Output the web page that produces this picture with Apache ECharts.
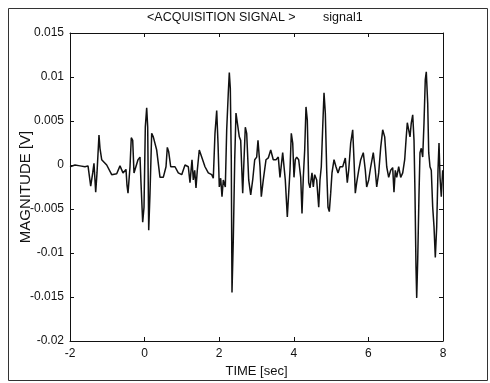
<!DOCTYPE html>
<html>
<head>
<meta charset="utf-8">
<script src="https://cdn.jsdelivr.net/npm/echarts@6/dist/echarts.min.js"></script>
<style>
  html, body { margin: 0; padding: 0; background: #fff; }
  #chart { width: 490px; height: 383px; }
</style>
</head>
<body>
<div id="chart"></div>
<script>
// time axis (sec)
const timeSec = [
  -2.000, -1.866, -1.732, -1.686, -1.598, -1.517, -1.445, -1.391, -1.357, -1.311,
  -1.276, -1.223, -1.196, -1.150, -1.115, -1.016, -0.882, -0.748, -0.660, -0.579,
  -0.499, -0.472, -0.445, -0.391, -0.357, -0.319, -0.284, -0.231, -0.177, -0.123,
  -0.097, -0.051, -0.016, 0.019, 0.056, 0.083, 0.110, 0.145, 0.190, 0.233,
  0.324, 0.413, 0.501, 0.574, 0.609, 0.646, 0.700, 0.815, 0.903, 0.995,
  1.083, 1.172, 1.217, 1.271, 1.306, 1.343, 1.378, 1.413, 1.466, 1.531,
  1.619, 1.708, 1.799, 1.842, 1.887, 1.933, 1.968, 2.003, 2.040, 2.075,
  2.110, 2.164, 2.201, 2.244, 2.271, 2.298, 2.324, 2.343, 2.378, 2.416,
  2.450, 2.485, 2.539, 2.576, 2.630, 2.665, 2.700, 2.737, 2.791, 2.845,
  2.898, 2.952, 3.005, 3.040, 3.094, 3.129, 3.182, 3.255, 3.316, 3.381,
  3.450, 3.523, 3.584, 3.630, 3.702, 3.737, 3.772, 3.826, 3.863, 3.898,
  3.933, 3.971, 4.005, 4.040, 4.078, 4.131, 4.185, 4.220, 4.255, 4.292,
  4.327, 4.362, 4.399, 4.434, 4.488, 4.523, 4.560, 4.614, 4.668, 4.702,
  4.737, 4.775, 4.810, 4.845, 4.882, 4.917, 4.952, 4.989, 5.024, 5.078,
  5.131, 5.185, 5.239, 5.311, 5.381, 5.434, 5.472, 5.525, 5.579, 5.614,
  5.649, 5.686, 5.740, 5.794, 5.863, 5.917, 5.954, 6.008, 6.062, 6.131,
  6.185, 6.223, 6.276, 6.330, 6.383, 6.437, 6.491, 6.544, 6.598, 6.651,
  6.686, 6.721, 6.759, 6.812, 6.866, 6.920, 6.973, 7.008, 7.043, 7.080,
  7.115, 7.150, 7.188, 7.223, 7.249, 7.276, 7.295, 7.322, 7.357, 7.383,
  7.418, 7.456, 7.491, 7.525, 7.552, 7.590, 7.617, 7.651, 7.686, 7.724,
  7.759, 7.794, 7.831, 7.866, 7.893, 7.920, 7.954, 7.992
];

// signal magnitude (V)
const magnitudeV = [
  -0.0002, 0.0000, -0.0001, 0.0001, -0.0002, -0.0001, -0.0024, -0.0009, 0.0002, -0.0031,
  -0.0009, 0.0034, 0.0019, 0.0006, 0.0007, 0.0000, -0.0011, -0.0010, -0.0001, -0.0009,
  -0.0005, -0.0023, -0.0032, -0.0002, 0.0031, 0.0028, -0.0009, -0.0009, 0.0006, 0.0009,
  -0.0020, -0.0065, -0.0048, 0.0043, 0.0065, 0.0043, -0.0074, -0.0032, 0.0036, 0.0032,
  0.0017, -0.0014, -0.0014, -0.0002, 0.0020, 0.0015, -0.0002, -0.0002, -0.0009, -0.0011,
  0.0000, -0.0002, -0.0020, 0.0006, -0.0017, -0.0006, -0.0026, -0.0006, 0.0017, 0.0009,
  -0.0002, -0.0009, -0.0011, -0.0015, 0.0036, 0.0062, 0.0025, -0.0025, -0.0015, -0.0036,
  -0.0017, -0.0025, 0.0040, 0.0082, 0.0105, 0.0087, 0.0006, -0.0145, -0.0085, 0.0006,
  0.0059, 0.0059, 0.0032, 0.0028, -0.0032, 0.0006, 0.0043, 0.0036, -0.0017, -0.0034,
  -0.0017, 0.0006, 0.0009, 0.0028, -0.0002, -0.0036, -0.0017, 0.0006, 0.0008, 0.0017,
  0.0006, 0.0006, 0.0009, -0.0014, 0.0014, 0.0014, -0.0017, -0.0059, -0.0032, -0.0006,
  0.0036, 0.0025, -0.0014, 0.0006, 0.0009, 0.0006, -0.0014, -0.0055, -0.0014, 0.0017,
  0.0066, 0.0051, -0.0020, -0.0026, -0.0009, -0.0025, -0.0011, -0.0017, -0.0048, -0.0017,
  -0.0002, 0.0043, 0.0082, 0.0059, -0.0006, -0.0048, -0.0053, -0.0032, -0.0009, 0.0006,
  -0.0002, -0.0009, -0.0002, -0.0002, 0.0008, -0.0020, -0.0006, 0.0025, 0.0040, 0.0006,
  -0.0032, -0.0020, -0.0006, 0.0006, 0.0014, -0.0006, -0.0025, -0.0017, -0.0002, 0.0014,
  -0.0006, -0.0025, -0.0009, 0.0020, 0.0040, 0.0032, -0.0002, -0.0014, -0.0006, -0.0003,
  -0.0031, -0.0006, -0.0014, -0.0002, -0.0014, -0.0009, 0.0006, 0.0028, 0.0048, 0.0040,
  0.0032, 0.0048, 0.0057, 0.0028, -0.0032, -0.0116, -0.0151, -0.0108, -0.0032, 0.0014,
  0.0019, 0.0009, 0.0048, 0.0097, 0.0106, 0.0070, 0.0014, -0.0002, -0.0006, -0.0048,
  -0.0070, -0.0105, -0.0070, -0.0006, 0.0025, -0.0014, -0.0036, -0.0006
];

const titleText = "<ACQUISITION SIGNAL >";
const signalName = "signal1";
const xName = "TIME [sec]";
const yName = "MAGNITUDE [V]";

const font = "'Liberation Sans', Arial, sans-serif";
const ink = "#111";

const chart = echarts.init(document.getElementById("chart"));

const signalData = timeSec.map((t, i) => [t, magnitudeV[i]]);

// MATLAB-like box: ticks inward on every side
const boxAxis = {
	type: "value",
	axisLine: { show: true, onZero: false, lineStyle: { color: ink, width: 1 } },
	axisTick: { show: true, inside: true, length: 4, lineStyle: { color: ink } },
	splitLine: { show: false },
};

const option = {
	animation: false,
	backgroundColor: "#fff",
	grid: { left: 70, right: 47, top: 33, bottom: 42 },
	xAxis: [
		{
			...boxAxis,
			min: -2,
			max: 8,
			interval: 2,
			position: "bottom",
			name: xName,
			nameLocation: "middle",
			nameGap: 24,
			nameMoveOverlap: false,
			nameTextStyle: { fontFamily: font, fontSize: 13, color: ink },
			axisLabel: { fontFamily: font, fontSize: 12, color: ink, margin: 7 },
		},
		{
			...boxAxis,
			min: -2,
			max: 8,
			interval: 2,
			position: "top",
			axisLabel: { show: false },
		},
	],
	yAxis: [
		{
			...boxAxis,
			min: -0.02,
			max: 0.015,
			interval: 0.005,
			position: "left",
			name: yName,
			nameLocation: "middle",
			nameGap: 37,
			nameMoveOverlap: false,
			nameTextStyle: { fontFamily: font, fontSize: 15, color: ink },
			axisLabel: {
				fontFamily: font,
				fontSize: 12,
				color: ink,
				margin: 6,
				formatter: (v) => String(+v.toFixed(3)),
			},
		},
		{
			...boxAxis,
			min: -0.02,
			max: 0.015,
			interval: 0.005,
			position: "right",
			axisLabel: { show: false },
		},
	],
	series: [
		{
			name: signalName,
			type: "line",
			data: signalData,
			showSymbol: false,
			lineStyle: { color: ink, width: 1.5 },
		},
	],
	graphic: [
		{
			type: "rect",
			silent: true,
			shape: { x: 8.5, y: 8.5, width: 479, height: 372 },
			style: { fill: "none", stroke: "#333", lineWidth: 1 },
		},
		{
			type: "text",
			left: 147,
			top: 11,
			style: { text: titleText, font: "12.5px " + font, fill: ink },
		},
		{
			type: "text",
			left: 323,
			top: 11,
			style: { text: signalName, font: "12.5px " + font, fill: ink },
		},
	],
};

chart.setOption(option);
</script>
</body>
</html>
